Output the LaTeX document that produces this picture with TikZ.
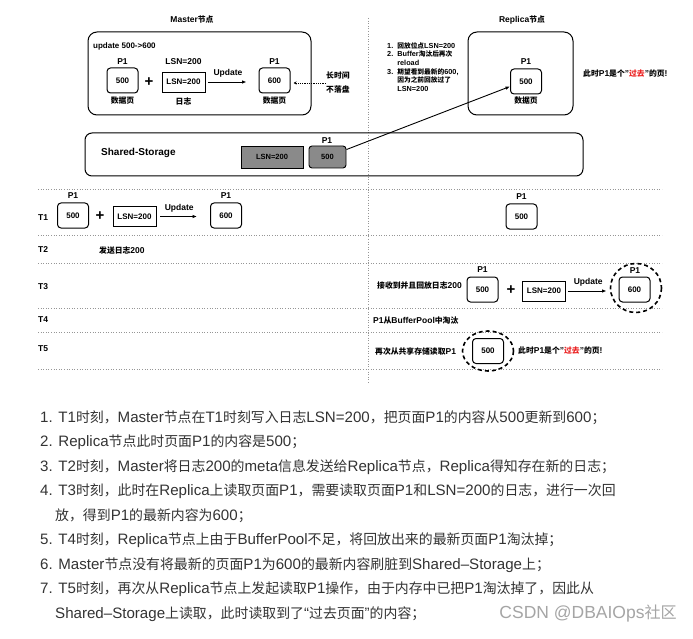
\documentclass[tikz,border=0pt]{standalone}
\usepackage{fontspec}
\setmainfont{Liberation Sans}
\newfontfamily\cjkf{Noto Sans CJK SC}[Scale=0.92]
\XeTeXinterchartokenstate=1
\newXeTeXintercharclass\cjkcls
\newcount\cjkc
\def\setcjkrange#1#2{\cjkc=#1\relax\loop\XeTeXcharclass\cjkc=\cjkcls\relax\ifnum\cjkc<#2\relax\advance\cjkc by 1\relax\repeat}
\setcjkrange{"3000}{"303F}
\setcjkrange{"4E00}{"9FFF}
\setcjkrange{"FF00}{"FFEF}
\XeTeXinterchartoks 0 \cjkcls = {\begingroup\cjkf}
\XeTeXinterchartoks 4095 \cjkcls = {\begingroup\cjkf}
\XeTeXinterchartoks \cjkcls 0 = {\endgroup}
\XeTeXinterchartoks \cjkcls 4095 = {\endgroup}
\usetikzlibrary{arrows.meta}
\definecolor{txt}{RGB}{51,51,51}
\definecolor{gridc}{RGB}{150,150,150}
\definecolor{sgray}{RGB}{138,138,138}
\definecolor{wm}{RGB}{165,165,165}
\definecolor{redt}{RGB}{235,30,30}
\begin{document}
\begin{tikzpicture}[x=1pt,y=-1pt,
  bigbox/.style={draw, rounded corners=9pt, line width=1pt},
  page/.style={draw, rounded corners=3.5pt, line width=1pt, minimum width=31pt, minimum height=25pt, inner sep=0pt, font=\bfseries\fontsize{8}{9}\selectfont},
  logbox/.style={draw, line width=0.9pt, minimum width=43pt, minimum height=20pt, inner sep=0pt, font=\bfseries\fontsize{8}{9}\selectfont},
  lbl/.style={inner sep=0pt, font=\bfseries\fontsize{8.5}{10}\selectfont},
  notes/.style={inner sep=0pt, anchor=north west, align=left, font=\bfseries\fontsize{7.3}{8.7}\selectfont},
  plus/.style={inner sep=0pt, font=\bfseries\fontsize{15}{15}\selectfont},
  arr/.style={line width=0.9pt, -{Latex[length=4.5pt,width=3.6pt]}},
  gridline/.style={draw=gridc, line width=0.6pt, dotted},
  circ/.style={line width=1.6pt, dash pattern=on 4pt off 3pt},
  listtxt/.style={inner sep=0pt, anchor=west, text=txt, font=\fontsize{15.1}{18}\selectfont}
  ]
\useasboundingbox[fill=white] (0,0) rectangle (693,639);

% ---------- grid ----------
\foreach \yy in {189,235,263,308,332,369} \draw[gridline] (38,\yy) -- (662,\yy);
\draw[gridline] (368,18) -- (368,383);

% ---------- Master ----------
\node[lbl] (mtitle) at (192,20) {Master节点};
\draw[bigbox] (88,32) rectangle (311,115);
\node[lbl, anchor=west, font=\bfseries\fontsize{8}{9}\selectfont] (mupd) at (93,46) {update 500->600};
\node[page] (m500) at (122.5,80.5) {500};
\node[lbl] (m500p) at (122.5,62) {P1};
\node[lbl] (m500d) at (122.5,101) {数据页};
\node[plus] (mplus) at (149,82) {+};
\node[logbox] (mlsn) at (183.5,82) {LSN=200};
\node[lbl] (mlsnl) at (183.5,62) {LSN=200};
\node[lbl] (mlsnd) at (183.5,101) {日志};
\node[page] (m600) at (274.5,80.5) {600};
\node[lbl] (m600p) at (274.5,62) {P1};
\node[lbl] (m600d) at (274.5,101) {数据页};
\draw[arr, shorten <=3pt, shorten >=12pt] (mlsn.east) -- (mlsn.east -| m600.west)
  node[lbl, midway, above=4pt, xshift=-4pt] (mupdl) {Update};
\node[lbl, anchor=west, align=left, font=\bfseries\fontsize{8.5}{14}\selectfont] (mlong) at (326,83) {长时间\\不落盘};
\draw[line width=0.8pt, densely dotted, -{Stealth[length=3pt,width=3pt]}, shorten >=3pt] (mlong.west) -- (mlong.west -| m600.east);

% ---------- Replica ----------
\node[lbl] (rtitle) at (522,20) {Replica节点};
\draw[bigbox] (468,32) rectangle (573,115);
\node[notes] (rnotes) at (387,42) {1.\ \ 回放位点LSN=200\\2.\ \ Buffer淘汰后再次\\\hphantom{2.\ \ }reload\\3.\ \ 期望看到最新的600,\\\hphantom{3.\ \ }因为之前回放过了\\\hphantom{3.\ \ }LSN=200};
\node[page] (r500) at (526,81.5) {500};
\node[lbl] (r500p) at (526,62) {P1};
\node[lbl] (r500d) at (526,101) {数据页};
\node[lbl, anchor=west] (rpast) at (583,74) {此时P1是个"\textcolor{redt}{过去}"的页!};

% ---------- Shared storage ----------
\draw[bigbox, rounded corners=7pt] (85,133) rectangle (583,176);
\node[lbl, anchor=west, font=\bfseries\fontsize{10}{11}\selectfont] (stitle) at (101,153) {Shared-Storage};
\node[draw, fill=sgray, line width=0.9pt, minimum width=62pt, minimum height=22pt, inner sep=0pt, font=\bfseries\fontsize{7.5}{8}\selectfont] (slsn) at (272,157) {LSN=200};
\node[draw, fill=sgray, rounded corners=3pt, line width=0.9pt, minimum width=37pt, minimum height=22pt, inner sep=0pt, font=\bfseries\fontsize{7.5}{8}\selectfont] (s500) at (327.5,157) {500};
\node[lbl] (s500p) at (327,141) {P1};
\draw[arr] ([yshift=-4pt]s500.north east) -- ([yshift=-5pt]r500.west);

% ---------- T1 ----------
\node[lbl, anchor=west] (T1) at (38,218) {T1};
\node[page] (t1a) at (73,215.5) {500};
\node[lbl] (t1ap) at (73,196) {P1};
\node[plus] (t1plus) at (100,216) {+};
\node[logbox] (t1lsn) at (134.5,216.5) {LSN=200};
\node[page] (t1b) at (226,215.5) {600};
\node[lbl] (t1bp) at (226,196) {P1};
\draw[arr, shorten <=4pt, shorten >=13pt] (t1lsn.east) -- (t1lsn.east -| t1b.west)
  node[lbl, midway, above=4pt, xshift=-4pt] (t1upd) {Update};
\node[page] (r1) at (521.5,216.5) {500};
\node[lbl] (r1p) at (521.5,197) {P1};

% ---------- T2 ----------
\node[lbl, anchor=west] (T2) at (38,250) {T2};
\node[lbl, anchor=west] (t2txt) at (99,251) {发送日志200};

% ---------- T3 ----------
\node[lbl, anchor=west] (T3) at (38,287) {T3};
\node[lbl, anchor=west] (t3txt) at (377,286) {接收到并且回放日志200};
\node[page] (t3a) at (482.5,289.5) {500};
\node[lbl] (t3ap) at (482.5,270) {P1};
\node[plus] (t3plus) at (511,290) {+};
\node[logbox] (t3lsn) at (544,291) {LSN=200};
\node[page] (t3b) at (634.5,289.5) {600};
\node[lbl] (t3bp) at (635,271) {P1};
\draw[arr, shorten <=2pt, shorten >=12pt] (t3lsn.east) -- (t3lsn.east -| t3b.west)
  node[lbl, midway, above=4pt, xshift=-4pt] (t3upd) {Update};
\draw[circ] ([xshift=1.5pt,yshift=1.5pt]t3b.center) ellipse [x radius=25.5, y radius=24.5];

% ---------- T4 ----------
\node[lbl, anchor=west] (T4) at (38,320) {T4};
\node[lbl, anchor=west] (t4txt) at (373,321) {P1从BufferPool中淘汰};

% ---------- T5 ----------
\node[lbl, anchor=west] (T5) at (38,349) {T5};
\node[lbl, anchor=west] (t5txt) at (375,352) {再次从共享存储读取P1};
\node[page] (t5a) at (488,351) {500};
\draw[circ] (t5a.center) ellipse [x radius=25.5, y radius=20];
\node[lbl, anchor=west] (t5past) at (518,351) {此时P1是个"\textcolor{redt}{过去}"的页!};

% ---------- list ----------
\node[listtxt] (l1) at (40,418) {1. T1时刻，Master节点在T1时刻写入日志LSN=200，把页面P1的内容从500更新到600；};
\node[listtxt] (l2) at (40,442.5) {2. Replica节点此时页面P1的内容是500；};
\node[listtxt] (l3) at (40,467) {3. T2时刻，Master将日志200的meta信息发送给Replica节点，Replica得知存在新的日志；};
\node[listtxt] (l4) at (40,491.5) {4. T3时刻，此时在Replica上读取页面P1，需要读取页面P1和LSN=200的日志，进行一次回};
\node[listtxt] (l4b) at (55,516) {放，得到P1的最新内容为600；};
\node[listtxt] (l5) at (40,540.5) {5. T4时刻，Replica节点上由于BufferPool不足，将回放出来的最新页面P1淘汰掉；};
\node[listtxt] (l6) at (40,565) {6. Master节点没有将最新的页面P1为600的最新内容刷脏到Shared–Storage上；};
\node[listtxt] (l7) at (40,589.5) {7. T5时刻，再次从Replica节点上发起读取P1操作，由于内存中已把P1淘汰掉了，因此从};
\node[listtxt] (l7b) at (55,614) {Shared–Storage上读取，此时读取到了“过去页面”的内容；};
\node[inner sep=0pt, anchor=east, text=wm, font=\fontsize{17.5}{18}\selectfont] (wmark) at (677,614) {CSDN @DBAIOps社区};
\end{tikzpicture}
\end{document}
